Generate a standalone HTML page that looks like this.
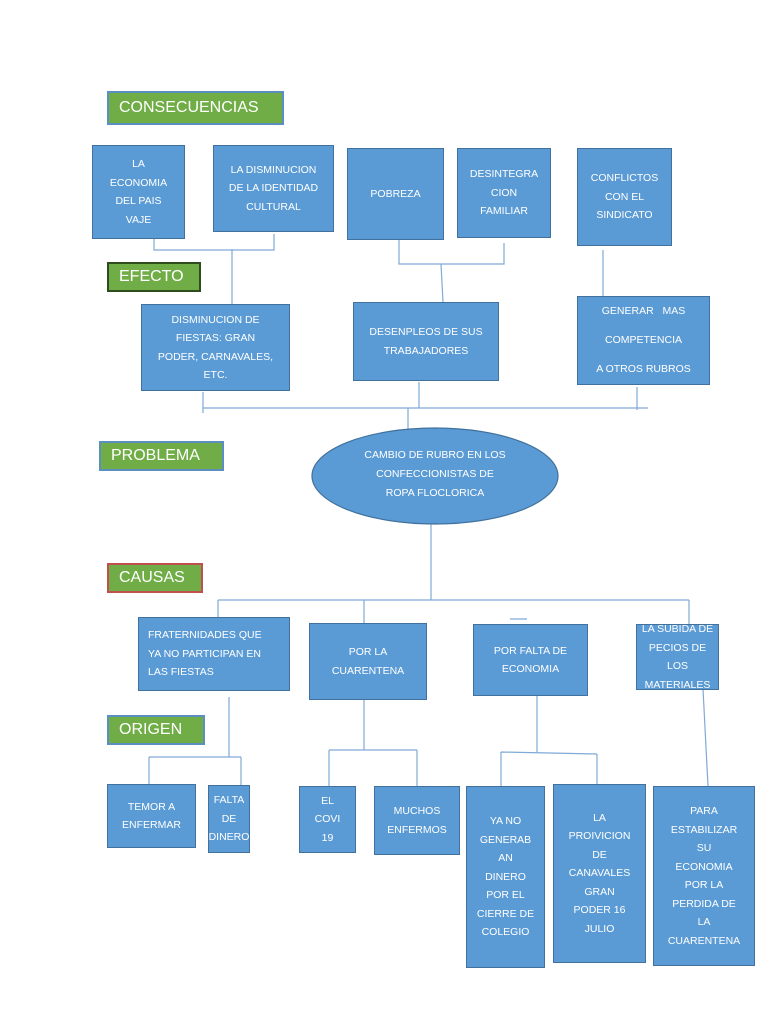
<!DOCTYPE html>
<html><head><meta charset="utf-8"><style>
body{margin:0;background:#fff;width:768px;height:1024px;position:relative;overflow:hidden;font-family:"Liberation Sans",sans-serif}
.b{position:absolute;background:#5b9bd5;border:1px solid #41719c;color:#fff;font-size:10.5px;line-height:18.5px;text-align:center;display:flex;align-items:center;justify-content:center;box-sizing:border-box;padding:0 3px}
.g{position:absolute;background:#70ad47;border:2px solid #5b8fc0;color:#fff;font-size:16px;box-sizing:border-box;padding-left:10px;display:flex;align-items:center}
svg{position:absolute;left:0;top:0}
</style></head><body>
<svg width="768" height="1024" stroke="#7fa9d6" stroke-width="1.2" fill="none">
<path d="M154 238V250H274V234M232 249V304M399 240V264H504V243M441 264L443 302M603 250V296"/>
<path d="M203 408H648M203 392V413M419 382V408M637 387V410M408 408V430"/>
<path d="M431 524V600M218 600H689M218 600V617M364 600V623M689 600V624M510 619H527"/>
<path d="M229 697V757M149 757H241M149 757V784M241 757V785"/>
<path d="M364 699V750M329 750H417M329 750V786M417 750V786"/>
<path d="M537 695V752M501 752L597 754M501 752V786M597 754V784M703 689L708 786"/>
<ellipse cx="435" cy="476" rx="123" ry="48" fill="#5b9bd5" stroke="#41719c"/>
</svg>
<div class="g" style="left:107px;top:91px;width:177px;height:34px">CONSECUENCIAS</div>
<div class="g" style="left:107px;top:262px;width:94px;height:30px;border-color:#2e4d1f">EFECTO</div>
<div class="g" style="left:99px;top:441px;width:125px;height:30px">PROBLEMA</div>
<div class="g" style="left:107px;top:563px;width:96px;height:30px;border-color:#c0504d">CAUSAS</div>
<div class="g" style="left:107px;top:715px;width:98px;height:30px">ORIGEN</div>

<div class="b" style="left:92px;top:145px;width:93px;height:94px">LA<br>ECONOMIA<br>DEL PAIS<br>VAJE</div>
<div class="b" style="left:213px;top:145px;width:121px;height:87px">LA DISMINUCION<br>DE LA IDENTIDAD<br>CULTURAL</div>
<div class="b" style="left:347px;top:148px;width:97px;height:92px">POBREZA</div>
<div class="b" style="left:457px;top:148px;width:94px;height:90px">DESINTEGRA<br>CION<br>FAMILIAR</div>
<div class="b" style="left:577px;top:148px;width:95px;height:98px">CONFLICTOS<br>CON EL<br>SINDICATO</div>
<div class="b" style="left:141px;top:304px;width:149px;height:87px">DISMINUCION DE<br>FIESTAS: GRAN<br>PODER, CARNAVALES,<br>ETC.</div>
<div class="b" style="left:353px;top:302px;width:146px;height:79px">DESENPLEOS DE SUS<br>TRABAJADORES</div>
<div class="b" style="left:577px;top:296px;width:133px;height:89px;line-height:29px">GENERAR &nbsp; MAS<br>COMPETENCIA<br>A OTROS RUBROS</div>
<div style="position:absolute;left:330px;top:446px;width:210px;text-align:center;color:#fff;font-size:10.5px;line-height:19px">CAMBIO DE RUBRO EN LOS<br>CONFECCIONISTAS DE<br>ROPA FLOCLORICA</div>
<div class="b" style="left:138px;top:617px;width:152px;height:74px;justify-content:flex-start;text-align:left;padding-left:9px">FRATERNIDADES QUE<br>YA NO PARTICIPAN EN<br>LAS FIESTAS</div>
<div class="b" style="left:309px;top:623px;width:118px;height:77px">POR LA<br>CUARENTENA</div>
<div class="b" style="left:473px;top:624px;width:115px;height:72px">POR FALTA DE<br>ECONOMIA</div>
<div class="b" style="left:636px;top:624px;width:83px;height:66px">LA SUBIDA DE<br>PECIOS DE LOS<br>MATERIALES</div>
<div class="b" style="left:107px;top:784px;width:89px;height:64px">TEMOR A<br>ENFERMAR</div>
<div class="b" style="left:208px;top:785px;width:42px;height:68px">FALTA<br>DE<br>DINERO</div>
<div class="b" style="left:299px;top:786px;width:57px;height:67px">EL<br>COVI<br>19</div>
<div class="b" style="left:374px;top:786px;width:86px;height:69px">MUCHOS<br>ENFERMOS</div>
<div class="b" style="left:466px;top:786px;width:79px;height:182px">YA NO<br>GENERAB<br>AN<br>DINERO<br>POR EL<br>CIERRE DE<br>COLEGIO</div>
<div class="b" style="left:553px;top:784px;width:93px;height:179px">LA<br>PROIVICION<br>DE<br>CANAVALES<br>GRAN<br>PODER 16<br>JULIO</div>
<div class="b" style="left:653px;top:786px;width:102px;height:180px">PARA<br>ESTABILIZAR<br>SU<br>ECONOMIA<br>POR LA<br>PERDIDA DE<br>LA<br>CUARENTENA</div>
</body></html>
